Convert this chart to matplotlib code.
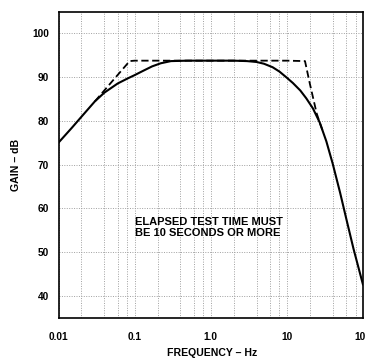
import numpy as np
import matplotlib
matplotlib.use("Agg")
import matplotlib.pyplot as plt
from matplotlib.ticker import LogLocator, FixedLocator, NullFormatter

plt.rcParams['font.family'] = ['Liberation Sans', 'DejaVu Sans']

# measured response (solid)
freq_meas = [0.01, 0.015, 0.02, 0.03, 0.04, 0.06, 0.08, 0.1, 0.13, 0.17, 0.22,
             0.3, 0.5, 1.0, 2.0, 3.0, 4.0, 5.0, 6.5, 8.0, 10.0, 12.0, 15.0,
             18.0, 22.0, 27.0, 33.0, 40.0, 50.0, 60.0, 75.0, 100.0]
gain_meas = [75.0, 78.4, 80.9, 84.4, 86.4, 88.5, 89.6, 90.4, 91.4, 92.4, 93.1,
             93.6, 93.7, 93.7, 93.7, 93.6, 93.4, 93.0, 92.2, 91.2, 89.8, 88.6, 86.9,
             85.1, 82.8, 79.6, 75.3, 70.2, 63.6, 57.8, 50.8, 42.6]

# asymptotic limits (dashed)
freq_lim = [0.03, 0.086, 0.1, 1.0, 10.0, 17.3, 20.0, 24.6, 27.0, 30.0]
gain_lim = [84.4, 93.6, 93.7, 93.7, 93.7, 93.6, 88.5, 81.7, 79.6, 77.4]

xticks = [0.01, 0.1, 1, 10, 100]
xtick_labels = ['0.01', '0.1', '1.0', '10', '100']
yticks = [40, 50, 60, 70, 80, 90, 100]

fig = plt.figure(figsize=(3.65, 3.64), dpi=100)
ax = fig.add_axes([58.5/365, 1 - 318/364, 304.5/365, 306/364])

ax.plot(freq_meas, gain_meas, color='black', lw=1.5, solid_capstyle='round',
        solid_joinstyle='round')
ax.plot(freq_lim, gain_lim, color='black', lw=1.3, dashes=(4, 2))

ax.set_xscale('log')
ax.set_xlim(0.01, 100)
ax.set_ylim(35, 104.8)

ax.xaxis.set_major_locator(FixedLocator(xticks))
ax.set_xticklabels(xtick_labels)
ax.xaxis.set_minor_locator(LogLocator(base=10, subs=[2, 4, 6, 8]))
ax.xaxis.set_minor_formatter(NullFormatter())
ax.set_yticks(yticks)

ax.tick_params(which='both', length=0)
ax.tick_params(axis='x', pad=10)
ax.tick_params(axis='y', pad=7)
for lab in ax.get_xticklabels() + ax.get_yticklabels():
    lab.set_fontsize(7.3)
    lab.set_fontweight('bold')

ax.grid(True, which='both', axis='x', color='#a0a0a0', lw=0.7, linestyle=(0, (1, 1.5)))
ax.grid(True, which='major', axis='y', color='#a0a0a0', lw=0.7, linestyle=(0, (1, 1.5)))

for s in ax.spines.values():
    s.set_linewidth(1.2)
    s.set_color('black')

ax.set_xlabel('FREQUENCY – Hz', fontsize=7.6, fontweight='bold')
ax.set_ylabel('GAIN – dB', fontsize=7.6, fontweight='bold')
ax.xaxis.set_label_coords(0.503, -0.098)
ax.yaxis.set_label_coords(-0.122, 0.5)

ax.text(0.251, 0.33, 'ELAPSED TEST TIME MUST\nBE 10 SECONDS OR MORE',
        transform=ax.transAxes, fontsize=8, fontweight='bold',
        ha='left', va='top', linespacing=1.1)

fig.savefig('out.png', dpi=100)
